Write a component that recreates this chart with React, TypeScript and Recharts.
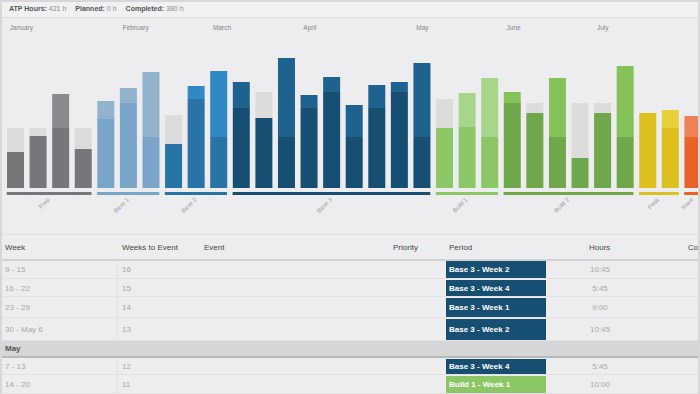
import React from "react";
import { BarChart, Bar, XAxis, YAxis, Cell } from "recharts";

// weekly bars
const months = [
    "January", "", "", "", "", "February", "", "", "", "March", "", "", "", "April", "", "",
    "", "", "May", "", "", "", "June", "", "", "", "July", "", "", "", "",
];
const periods = [
    "Prep", "Prep", "Prep", "Prep",
    "Base 1", "Base 1", "Base 1",
    "Base 2", "Base 2", "Base 2",
    "Base 3", "Base 3", "Base 3", "Base 3", "Base 3", "Base 3", "Base 3", "Base 3", "Base 3",
    "Build 1", "Build 1", "Build 1",
    "Build 2", "Build 2", "Build 2", "Build 2", "Build 2", "Build 2",
    "Peak", "Peak",
    "Race",
];
const completed = [
    3.6, 5.2, 6.0, 3.9, 6.9, 8.5, 5.1, 4.4, 8.9, 5.1, 8.0, 7.0, 5.1, 8.0, 9.6, 5.1, 8.0, 9.6,
    5.1, 6.0, 6.1, 5.1, 8.5, 7.5, 5.1, 3.0, 7.5, 5.1, 7.5, 6.0, 5.1,
];
const extra = [
    0, 0, 3.4, 0, 1.8, 1.5, 6.5, 0, 1.3, 6.6, 2.6, 0, 7.9, 1.3, 1.5, 3.2, 2.3, 1.0, 7.4, 0,
    3.4, 5.9, 1.1, 0, 5.9, 0, 0, 7.1, 0, 1.8, 2.1,
];
const remaining = [
    2.4, 0.8, 0, 2.1, 0, 0, 0, 2.9, 0, 0, 0, 2.6, 0, 0, 0, 0, 0, 0, 0, 2.9, 0, 0, 0, 1.0, 0,
    5.5, 1.0, 0, 0, 0, 0,
];

const darkColors: Record<string, string> = {
    Prep: "#77767b",
    "Base 1": "#79a5c8",
    "Base 2": "#2874a6",
    "Base 3": "#174f73",
    "Build 1": "#8cc766",
    "Build 2": "#6ea84b",
    Peak: "#dbc01e",
    Race: "#e96228",
};
const lightColors: Record<string, string> = {
    Prep: "#8a898e",
    "Base 1": "#92b3ce",
    "Base 2": "#2f8ac4",
    "Base 3": "#1e6390",
    "Build 1": "#a5d68c",
    "Build 2": "#84c35a",
    Peak: "#e8d03d",
    Race: "#ef8156",
};

// table
const weekLabels = ["9 - 15", "16 - 22", "23 - 29", "30 - May 6", "7 - 13", "14 - 20"];
const weeksToEvent = ["16", "15", "14", "13", "12", "11"];
const rowPeriods = [
    "Base 3 - Week 2",
    "Base 3 - Week 4",
    "Base 3 - Week 1",
    "Base 3 - Week 2",
    "Base 3 - Week 4",
    "Build 1 - Week 1",
];
const rowHours = ["10:45", "5:45", "9:00", "10:45", "5:45", "10:00"];
const rowTops = [260, 279, 297, 318, 358, 375];
const rowHeights = [19, 18, 21, 23, 17, 19];

const FONT = "'Liberation Sans', Arial, sans-serif";
const CHART_W = 705;
const ML = 4;
const MR = 1;
const BAR_W = 17;
const SLOT = (CHART_W - ML - MR) / periods.length;

const data = periods.map((p, i) => ({
    week: i,
    period: p,
    month: months[i],
    done: completed[i],
    extra: extra[i],
    remaining: remaining[i],
}));

const PeriodTick = (props: any) => {
    const { x } = props;
    const i = props.index ?? props.payload?.index ?? 0;
    const p = periods[i];
    const sameNext = periods[i + 1] === p;
    const first = i === 0 || periods[i - 1] !== p;
    let n = 0;
    while (periods[i + n] === p) n++;
    const center = x + ((n - 1) * SLOT) / 2;
    return (
        <g>
            {months[i] && (
                <text x={x - BAR_W / 2 + 3} y={12} fontSize={6.5} fill="#858585" fontFamily={FONT}>
                    {months[i]}
                </text>
            )}
            <rect
                x={x - BAR_W / 2}
                y={174}
                width={BAR_W + (sameNext ? SLOT - BAR_W + 1 : 0)}
                height={3}
                fill={darkColors[p]}
            />
            {first && (
                <text
                    x={center + 1}
                    y={182}
                    fontSize={6}
                    fill="#a0a0a0"
                    fontFamily={FONT}
                    textAnchor="end"
                    transform={`rotate(-45 ${center + 1} 182)`}
                >
                    {p}
                </text>
            )}
        </g>
    );
};

const cellText: React.CSSProperties = {
    position: "absolute",
    fontSize: 8,
    color: "#a8a8a8",
    display: "flex",
    alignItems: "center",
    whiteSpace: "nowrap",
};

const App: React.FC = () => {
    return (
        <div
            style={{
                position: "relative",
                width: 700,
                height: 394,
                overflow: "hidden",
                background: "#ededef",
                fontFamily: FONT,
            }}
        >
            <style>{"body{margin:0}"}</style>
            {/* summary strip */}
            <div
                style={{
                    position: "absolute",
                    left: 0,
                    top: 0,
                    width: 700,
                    height: 17,
                    background: "#f1f1f3",
                    borderBottom: "1px solid #dcdcdc",
                    fontSize: 7,
                    color: "#8a8a8a",
                    display: "flex",
                    alignItems: "center",
                }}
            >
                <span style={{ marginLeft: 9 }}>
                    <b style={{ color: "#555" }}>ATP Hours:</b> 421 h
                </span>
                <span style={{ marginLeft: 9 }}>
                    <b style={{ color: "#555" }}>Planned:</b> 0 h
                </span>
                <span style={{ marginLeft: 9 }}>
                    <b style={{ color: "#555" }}>Completed:</b> 380 h
                </span>
            </div>

            <div style={{ position: "absolute", left: 0, top: 18 }}>
                <BarChart
                    width={CHART_W}
                    height={216}
                    data={data}
                    margin={{ top: 30, right: MR, left: ML, bottom: 0 }}
                    barSize={BAR_W}
                >
                    <XAxis
                        dataKey="week"
                        height={46}
                        interval={0}
                        axisLine={false}
                        tickLine={false}
                        tick={(props: any) => <PeriodTick {...props} />}
                    />
                    <YAxis hide domain={[0, 14]} />
                    <Bar dataKey="done" stackId="a" isAnimationActive={false}>
                        {data.map((d, i) => (
                            <Cell key={i} fill={darkColors[d.period]} />
                        ))}
                    </Bar>
                    <Bar dataKey="extra" stackId="a" isAnimationActive={false}>
                        {data.map((d, i) => (
                            <Cell key={i} fill={lightColors[d.period]} />
                        ))}
                    </Bar>
                    <Bar dataKey="remaining" stackId="a" fill="#dcdcdd" isAnimationActive={false} />
                </BarChart>
            </div>

            {/* table */}
            <div style={{ position: "absolute", left: 0, top: 234, width: 700, height: 1, background: "#e0e0e2" }} />
            <div
                style={{
                    position: "absolute",
                    left: 0,
                    top: 235,
                    width: 700,
                    height: 24,
                    borderBottom: "2px solid #d2d2d4",
                    fontSize: 8,
                    color: "#444",
                }}
            >
                {[
                    ["Week", 5],
                    ["Weeks to Event", 122],
                    ["Event", 204],
                    ["Priority", 393],
                    ["Period", 449],
                    ["Hours", 589],
                    ["Completed", 688],
                ].map(([t, x]) => (
                    <span key={t as string} style={{ position: "absolute", left: x as number, top: 8 }}>
                        {t}
                    </span>
                ))}
            </div>

            {weekLabels.map((w, i) => {
                const top = rowTops[i];
                const h = rowHeights[i];
                const isBuild = rowPeriods[i].startsWith("Build");
                return (
                    <div key={i}>
                        <div
                            style={{
                                position: "absolute",
                                left: 0,
                                top: top,
                                width: 700,
                                height: h,
                                borderBottom: "1px solid #e2e2e4",
                                boxSizing: "border-box",
                            }}
                        />
                        <div
                            style={{
                                position: "absolute",
                                left: 117,
                                top: top,
                                width: 1,
                                height: h,
                                background: "#e2e2e4",
                            }}
                        />
                        <div style={{ ...cellText, left: 5, top, height: h }}>{w}</div>
                        <div style={{ ...cellText, left: 122, top, height: h }}>{weeksToEvent[i]}</div>
                        <div
                            style={{
                                ...cellText,
                                left: 446,
                                top: top + 1,
                                width: 100,
                                height: h - 2,
                                background: isBuild ? darkColors["Build 1"] : darkColors["Base 3"],
                                color: "#fff",
                                fontWeight: "bold",
                                paddingLeft: 3,
                                boxSizing: "border-box",
                            }}
                        >
                            {rowPeriods[i]}
                        </div>
                        <div
                            style={{
                                ...cellText,
                                left: 580,
                                top,
                                height: h,
                                width: 40,
                                justifyContent: "center",
                            }}
                        >
                            {rowHours[i]}
                        </div>
                    </div>
                );
            })}

            {/* month group row */}
            <div
                style={{
                    position: "absolute",
                    left: 0,
                    top: 341,
                    width: 700,
                    height: 15,
                    background: "#d6d6d8",
                    borderBottom: "2px solid #b9b9bb",
                    fontSize: 8,
                    fontWeight: "bold",
                    color: "#555",
                    display: "flex",
                    alignItems: "center",
                }}
            >
                <span style={{ marginLeft: 5 }}>May</span>
            </div>

            {/* frame */}
            <div
                style={{
                    position: "absolute",
                    left: 0,
                    top: 0,
                    width: 700,
                    height: 394,
                    borderTop: "2px solid #d8d8da",
                    borderLeft: "2px solid #d8d8da",
                    borderRight: "2px solid #d8d8da",
                    boxSizing: "border-box",
                    pointerEvents: "none",
                }}
            />
        </div>
    );
};

export default App;
